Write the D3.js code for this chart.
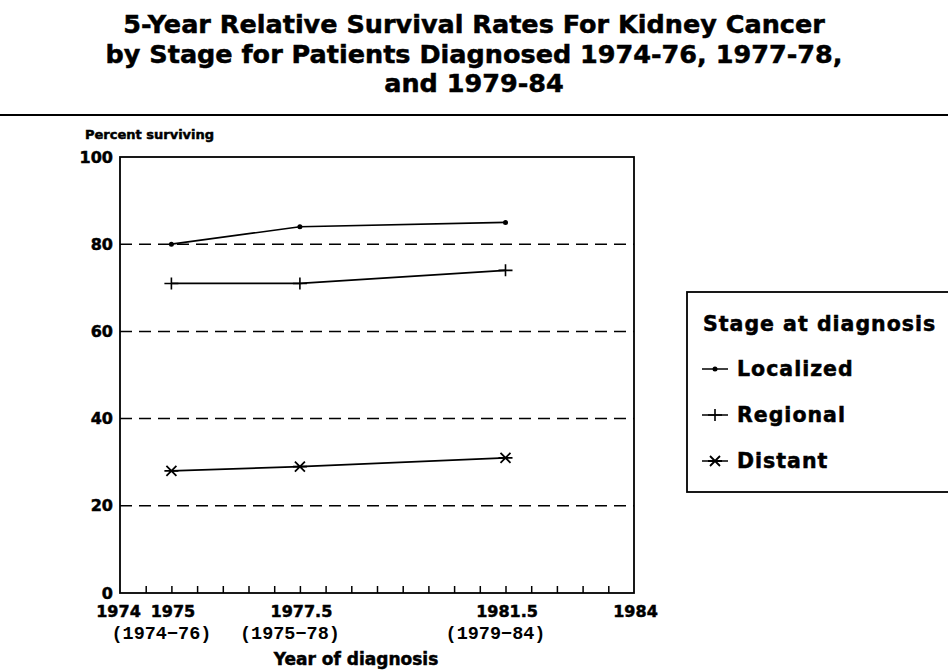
<!DOCTYPE html>
<html>
<head>
<meta charset="utf-8">
<script src="https://cdn.jsdelivr.net/npm/d3@7"></script>
<style>
  body { margin: 0; background: #fff; }
  svg { display: block; }
  .bold { font-family: "DejaVu Sans", sans-serif; font-weight: bold; fill: #000; stroke: #000; stroke-width: 0.5px; }
</style>
</head>
<body>
<svg id="chart" width="948" height="671"></svg>
<script>
// data
var titleLines = ["5-Year Relative Survival Rates For Kidney Cancer",
                  "by Stage for Patients Diagnosed 1974-76, 1977-78,",
                  "and 1979-84"];
var years = [1975, 1977.5, 1981.5];
var periods = ["(1974\u221276)", "(1975\u221278)", "(1979\u221284)"];
var stages = ["Localized", "Regional", "Distant"];
var localized = [80, 84, 85];
var regional = [71, 71, 74];
var distant = [28, 29, 31];
var yTicks = [0, 20, 40, 60, 80, 100];
var gridTicks = [20, 40, 60, 80];
var xLabels = [1974, 1975, 1977.5, 1981.5, 1984];
var xMinor = d3.range(1974.5, 1984, 0.5);

var series = [
    { name: stages[0], values: localized, symbol: "dot" },
    { name: stages[1], values: regional, symbol: "plus" },
    { name: stages[2], values: distant, symbol: "star" }
];

var svg = d3.select("#chart"),
    margin = { top: 157, left: 120 },
    width = 514,
    height = 436,
    g = svg.append("g").attr("transform", "translate(" + margin.left + "," + margin.top + ")");

// title
svg.append("g").selectAll("text")
    .data(titleLines)
    .enter().append("text")
    .attr("class", "bold")
    .attr("x", 474)
    .attr("y", function (d, i) { return 33 + i * 29.5; })
    .attr("text-anchor", "middle")
    .attr("font-size", 25.5)
    .text(function (d) { return d; });

svg.append("line")
    .attr("x1", 0).attr("x2", 948)
    .attr("y1", 115).attr("y2", 115)
    .attr("stroke", "#000").attr("stroke-width", 2);

var x = d3.scaleLinear().domain([1974, 1984]).range([0, width]);
var y = d3.scaleLinear().domain([0, 100]).range([height, 0]);

// dashed grid lines
g.append("g").selectAll("line")
    .data(gridTicks)
    .enter().append("line")
    .attr("x1", 0).attr("x2", width)
    .attr("y1", function (d) { return y(d); })
    .attr("y2", function (d) { return y(d); })
    .attr("stroke", "#000")
    .attr("stroke-width", 1.5)
    .attr("stroke-dasharray", "12,7");

// frame
g.append("rect")
    .attr("width", width).attr("height", height)
    .attr("fill", "none").attr("stroke", "#000").attr("stroke-width", 1.8);

// minor ticks on the bottom
g.append("g")
    .attr("transform", "translate(0," + height + ")")
    .call(d3.axisBottom(x).tickValues(xMinor).tickSize(-7).tickFormat(""))
    .call(function (a) { a.select(".domain").remove(); })
    .selectAll(".tick line").attr("stroke", "#000").attr("stroke-width", 1.5);

// x labels
var xAxis = g.append("g")
    .attr("transform", "translate(0," + height + ")")
    .call(d3.axisBottom(x).tickValues(xLabels).tickSize(0).tickPadding(13)
        .tickFormat(function (d) { return String(d); }));
xAxis.select(".domain").remove();
xAxis.selectAll("text")
    .attr("class", "bold")
    .attr("font-size", 16)
    .attr("dy", "0.71em")
    .attr("dx", function (d) { return d === 1974 ? -2 : 1; });

// period labels under the years
g.append("g").selectAll("text")
    .data(periods)
    .enter().append("text")
    .attr("x", function (d, i) { return x(years[i]) - 10; })
    .attr("y", height + 46)
    .attr("text-anchor", "middle")
    .attr("font-family", "'Liberation Mono', monospace")
    .attr("font-weight", "bold")
    .attr("font-size", 18.5)
    .text(function (d) { return d; });

g.append("text")
    .attr("class", "bold")
    .attr("x", 236)
    .attr("y", height + 72)
    .attr("text-anchor", "middle")
    .attr("font-size", 17)
    .text("Year of diagnosis");

// y axis labels
var yAxis = g.append("g")
    .call(d3.axisLeft(y).tickValues(yTicks).tickSize(0).tickPadding(7));
yAxis.select(".domain").remove();
yAxis.selectAll("text")
    .attr("class", "bold")
    .attr("font-size", 16);

svg.append("text")
    .attr("class", "bold")
    .attr("x", 85)
    .attr("y", 139)
    .attr("font-size", 13)
    .text("Percent surviving");

// symbols
function drawSymbol(sel, type) {
    if (type === "dot") {
        sel.append("circle").attr("r", 2.5).attr("fill", "#000");
    } else if (type === "plus") {
        sel.append("path").attr("d", "M-7,0H7M0,-6V6")
            .attr("stroke", "#000").attr("stroke-width", 1.6);
    } else {
        sel.append("path").attr("d", "M-7,0H7M-5,-5L5,5M-5,5L5,-5")
            .attr("stroke", "#000").attr("stroke-width", 1.8);
    }
}

var line = d3.line()
    .x(function (d, i) { return x(years[i]); })
    .y(function (d) { return y(d); });

series.forEach(function (s) {
    g.append("path")
        .datum(s.values)
        .attr("d", line)
        .attr("fill", "none")
        .attr("stroke", "#000")
        .attr("stroke-width", 1.7);
    g.append("g").selectAll("g")
        .data(s.values)
        .enter().append("g")
        .attr("transform", function (d, i) { return "translate(" + x(years[i]) + "," + y(d) + ")"; })
        .each(function () { drawSymbol(d3.select(this), s.symbol); });
});

// legend
var legend = svg.append("g").attr("transform", "translate(687,292)");
legend.append("rect")
    .attr("width", 300).attr("height", 200)
    .attr("fill", "none").attr("stroke", "#000").attr("stroke-width", 1.8);
legend.append("text")
    .attr("class", "bold")
    .attr("x", 16).attr("y", 39)
    .attr("font-size", 20.5)
    .attr("letter-spacing", 1)
    .text("Stage at diagnosis");

var item = legend.selectAll(".item")
    .data(series)
    .enter().append("g")
    .attr("class", "item")
    .attr("transform", function (d, i) { return "translate(0," + (84 + i * 46) + ")"; });
item.append("line")
    .attr("x1", 15).attr("x2", 41)
    .attr("y1", -7).attr("y2", -7)
    .attr("stroke", "#000").attr("stroke-width", 1.5);
item.append("g")
    .attr("transform", "translate(28,-7)")
    .each(function (d) { drawSymbol(d3.select(this), d.symbol); });
item.append("text")
    .attr("class", "bold")
    .attr("x", 50)
    .attr("font-size", 20.5)
    .attr("letter-spacing", 1)
    .text(function (d) { return d.name; });
</script>
</body>
</html>
